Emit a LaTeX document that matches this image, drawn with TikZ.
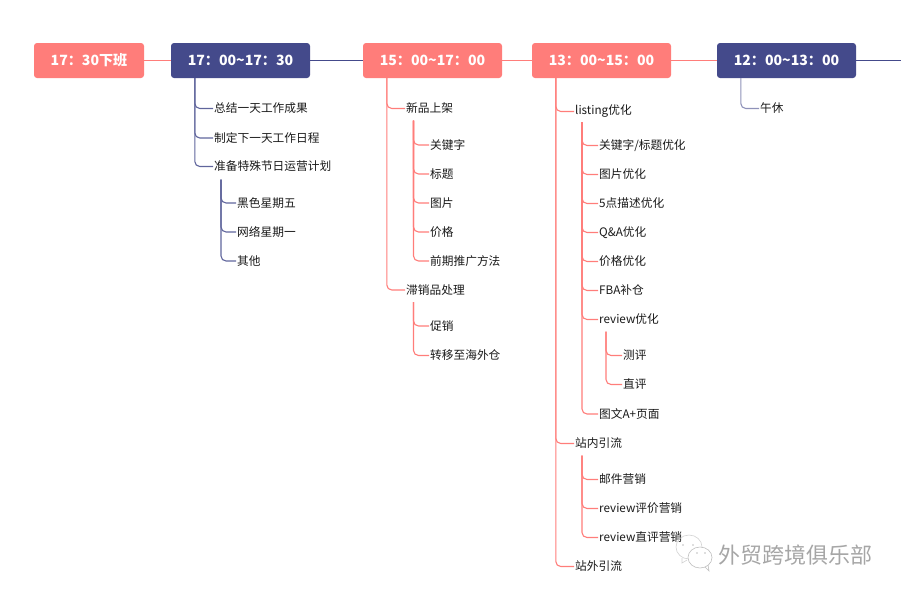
\documentclass[tikz,border=0pt]{standalone}
\usepackage{fontspec}
\setmainfont{Noto Sans CJK SC}
\definecolor{coral}{HTML}{FF7D7A}
\definecolor{indigo}{HTML}{444A8B}
\begin{document}
\begin{tikzpicture}[
    x=1pt, y=-1pt,
    timebox/.style={rectangle, minimum width=139pt, minimum height=35pt, inner sep=0pt, align=center, rounded corners=3pt, text=white, font=\fontsize{14.1}{16}\selectfont\bfseries},
    leaf/.style={anchor=west, inner sep=1pt, minimum height=14pt, text=black!90, font=\fontsize{11.7}{14}\selectfont},
    mainred/.style={coral, line width=1.8pt},
    mainblue/.style={indigo, line width=1.8pt},
    redlink/.style={coral, line width=1.1pt, rounded corners=5pt},
    bluelink/.style={indigo!85, line width=1.1pt, rounded corners=5pt},
    wechat/.style={draw=gray!50, line width=0.6pt}
]
\useasboundingbox (0,0) rectangle (901,595);

% Time boxes
\node[timebox, fill=coral, minimum width=110pt] (off) at (89,60.5) {17：30下班};
\node[timebox, fill=indigo] (wrapup) at (240.5,60.5) {17：00\textasciitilde 17：30};
\node[timebox, fill=coral] (newlist) at (432.5,60.5) {15：00\textasciitilde 17：00};
\node[timebox, fill=coral] (optim) at (601.5,60.5) {13：00\textasciitilde 15：00};
\node[timebox, fill=indigo] (lunch) at (786.5,60.5) {12：00\textasciitilde 13：00};
\coordinate (rightend) at (901,60.5);

% Main line
\draw[mainred] (off) -- (wrapup);
\draw[mainblue] (wrapup) -- (newlist);
\draw[mainred] (newlist) -- (optim);
\draw[mainred] (optim) -- (lunch);
\draw[mainblue] (lunch) -- (rightend);

% 17:00~17:30
\node[leaf] (summary) at (213,108.5) {总结一天工作成果};
\node[leaf] (schedule) at (213,138) {制定下一天工作日程};
\node[leaf] (holiday) at (213,166.5) {准备特殊节日运营计划};
\node[leaf] (friday) at (236,203) {黑色星期五};
\node[leaf] (monday) at (236,232) {网络星期一};
\node[leaf] (others) at (236,261) {其他};

\draw[bluelink] ([xshift=24pt]wrapup.south west) |- (summary.west);
\draw[bluelink] ([xshift=24pt]wrapup.south west) |- (schedule.west);
\draw[bluelink] ([xshift=24pt]wrapup.south west) |- (holiday.west);
\draw[bluelink] ([xshift=8pt,yshift=-6pt]holiday.south west) |- (friday.west);
\draw[bluelink] ([xshift=8pt,yshift=-6pt]holiday.south west) |- (monday.west);
\draw[bluelink] ([xshift=8pt,yshift=-6pt]holiday.south west) |- (others.west);

% 15:00~17:00
\node[leaf] (launch) at (405,108.5) {新品上架};
\node[leaf] (keyword) at (429,145) {关键字};
\node[leaf] (title) at (429,174) {标题};
\node[leaf] (picture) at (429,203) {图片};
\node[leaf] (price) at (429,232) {价格};
\node[leaf] (promo) at (429,261) {前期推广方法};
\node[leaf] (slow) at (405,290) {滞销品处理};
\node[leaf] (sale) at (429,326) {促销};
\node[leaf] (oversea) at (429,355.5) {转移至海外仓};

\draw[redlink] ([xshift=24pt]newlist.south west) |- (launch.west);
\draw[redlink] ([xshift=24pt]newlist.south west) |- (slow.west);
\draw[redlink] ([xshift=8.5pt,yshift=-5pt]launch.south west) |- (keyword.west);
\draw[redlink] ([xshift=8.5pt,yshift=-5pt]launch.south west) |- (title.west);
\draw[redlink] ([xshift=8.5pt,yshift=-5pt]launch.south west) |- (picture.west);
\draw[redlink] ([xshift=8.5pt,yshift=-5pt]launch.south west) |- (price.west);
\draw[redlink] ([xshift=8.5pt,yshift=-5pt]launch.south west) |- (promo.west);
\draw[redlink] ([xshift=8.5pt,yshift=-5pt]slow.south west) |- (sale.west);
\draw[redlink] ([xshift=8.5pt,yshift=-5pt]slow.south west) |- (oversea.west);

% 13:00~15:00
\node[leaf] (listing) at (574,111.5) {listing优化};
\node[leaf] (keytitle) at (598,145.5) {关键字/标题优化};
\node[leaf] (pics) at (598,174.5) {图片优化};
\node[leaf] (bullets) at (598,203.5) {5点描述优化};
\node[leaf] (qa) at (598,232.5) {Q\&A优化};
\node[leaf] (prices) at (598,261.5) {价格优化};
\node[leaf] (fba) at (598,290.5) {FBA补仓};
\node[leaf] (review) at (598,319.5) {review优化};
\node[leaf] (tester) at (622,355.5) {测评};
\node[leaf] (direct) at (622,384.5) {直评};
\node[leaf] (aplus) at (598,414) {图文A+页面};
\node[leaf] (inside) at (574,443.5) {站内引流};
\node[leaf] (email) at (598,479.5) {邮件营销};
\node[leaf] (remark) at (598,508.5) {review评价营销};
\node[leaf] (remarkdir) at (598,537.5) {review直评营销};
\node[leaf] (outside) at (574,566.5) {站外引流};

\draw[redlink] ([xshift=24pt]optim.south west) |- (listing.west);
\draw[redlink] ([xshift=24pt]optim.south west) |- (inside.west);
\draw[redlink] ([xshift=24pt]optim.south west) |- (outside.west);
\draw[redlink] ([xshift=8pt,yshift=-3pt]listing.south west) |- (keytitle.west);
\draw[redlink] ([xshift=8pt,yshift=-3pt]listing.south west) |- (pics.west);
\draw[redlink] ([xshift=8pt,yshift=-3pt]listing.south west) |- (bullets.west);
\draw[redlink] ([xshift=8pt,yshift=-3pt]listing.south west) |- (qa.west);
\draw[redlink] ([xshift=8pt,yshift=-3pt]listing.south west) |- (prices.west);
\draw[redlink] ([xshift=8pt,yshift=-3pt]listing.south west) |- (fba.west);
\draw[redlink] ([xshift=8pt,yshift=-3pt]listing.south west) |- (review.west);
\draw[redlink] ([xshift=8pt,yshift=-3pt]listing.south west) |- (aplus.west);
\draw[redlink] ([xshift=8pt,yshift=-5pt]review.south west) |- (tester.west);
\draw[redlink] ([xshift=8pt,yshift=-5pt]review.south west) |- (direct.west);
\draw[redlink] ([xshift=8pt,yshift=-5pt]inside.south west) |- (email.west);
\draw[redlink] ([xshift=8pt,yshift=-5pt]inside.south west) |- (remark.west);
\draw[redlink] ([xshift=8pt,yshift=-5pt]inside.south west) |- (remarkdir.west);

% 12:00~13:00
\node[leaf] (rest) at (759,108.5) {午休};
\draw[bluelink, indigo!60] ([xshift=24pt]lunch.south west) |- (rest.west);

% Watermark
\draw[wechat, draw=gray!35] (689,547) ellipse (13pt and 12pt);
\draw[wechat, draw=gray!35] (682,558) -- (682,563) -- (687,560);
\draw[wechat, fill=white] (700,557.5) ellipse (12pt and 10.5pt);
\draw[wechat] (705,567) -- (709,571) -- (708,565);
\fill[gray!50] (683,545) circle (0.8pt) (693,545) circle (0.8pt) (697,553) circle (0.8pt) (705,553) circle (0.8pt);
\node[anchor=west, inner sep=0pt, text=gray!70, font=\fontsize{22}{24}\selectfont] (club) at (718,555) {外贸跨境俱乐部};
\end{tikzpicture}
\end{document}
